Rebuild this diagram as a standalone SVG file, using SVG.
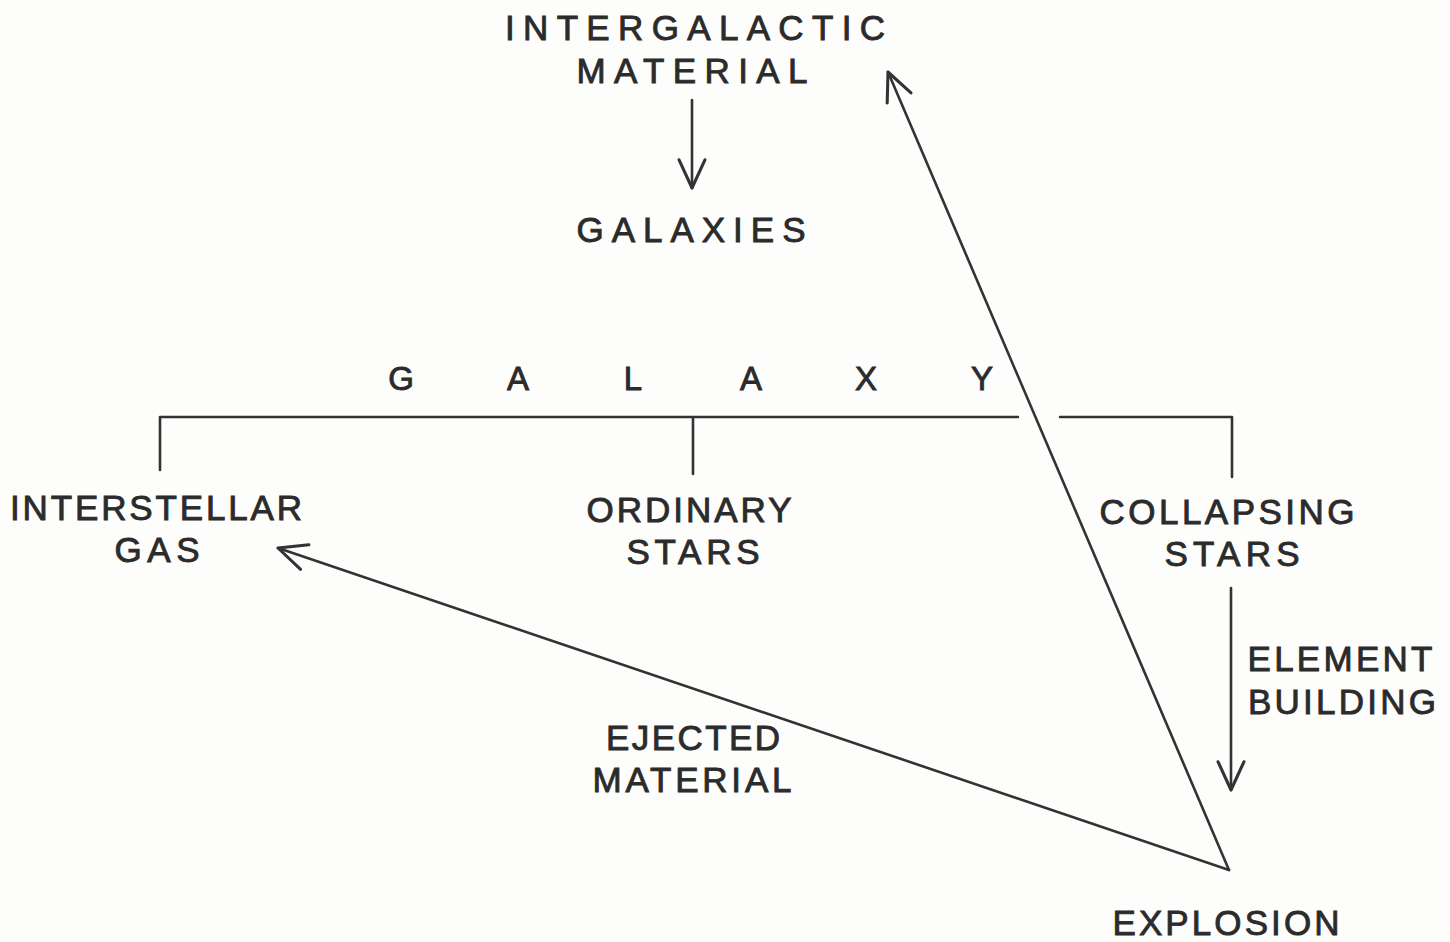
<svg xmlns="http://www.w3.org/2000/svg" width="1450" height="942" viewBox="0 0 1450 942">
<defs>
<style>
.t{font-family:"Liberation Sans","DejaVu Sans",Arial,sans-serif;font-size:35px;fill:#2b2b2b;stroke:#2b2b2b;stroke-width:0.9;text-anchor:middle}
.g{font-size:33px}
.c{fill:none;stroke:#333;stroke-width:2.6;stroke-linecap:round;stroke-linejoin:round}
</style>
<marker id="ah" markerUnits="userSpaceOnUse" markerWidth="40" markerHeight="40" viewBox="-30 -15 34 30" refX="0" refY="0" orient="auto">
<path d="M -24 -11 L 0 0 L -24 11" fill="none" stroke="#333" stroke-width="2.6" stroke-linecap="round" stroke-linejoin="round"/>
</marker>
</defs>
<rect width="1450" height="942" fill="#fdfdfb"/>
<g id="connectors">
<line class="c" x1="692" y1="100" x2="692" y2="188" marker-end="url(#ah)"/>
<path class="c" d="M160 470 V417 H1018 M1060 417 H1232 V477 M693 417 V474"/>
<line class="c" x1="1231" y1="588" x2="1231" y2="790" marker-end="url(#ah)"/>
<line class="c" x1="1229" y1="870" x2="888" y2="72" marker-end="url(#ah)"/>
<line class="c" x1="1229" y1="870" x2="278" y2="548" marker-end="url(#ah)"/>
</g>
<g id="intergalactic">
<text class="t" x="695" y="40" textLength="380" lengthAdjust="spacing">INTERGALACTIC</text>
<text class="t" x="692" y="83" textLength="231" lengthAdjust="spacing">MATERIAL</text>
</g>
<g id="galaxies">
<text class="t" x="691" y="242" textLength="229" lengthAdjust="spacing">GALAXIES</text>
</g>
<g id="galaxy">
<text class="t g" x="401 518 633 751 866 982" y="390">GALAXY</text>
</g>
<g id="interstellar-gas">
<text class="t" x="156" y="520" textLength="292" lengthAdjust="spacing">INTERSTELLAR</text>
<text class="t" x="157" y="562" textLength="85" lengthAdjust="spacing">GAS</text>
</g>
<g id="ordinary-stars">
<text class="t" x="689" y="522" textLength="205" lengthAdjust="spacing">ORDINARY</text>
<text class="t" x="693" y="564" textLength="133" lengthAdjust="spacing">STARS</text>
</g>
<g id="collapsing-stars">
<text class="t" x="1227" y="524" textLength="255" lengthAdjust="spacing">COLLAPSING</text>
<text class="t" x="1232" y="566" textLength="135" lengthAdjust="spacing">STARS</text>
</g>
<g id="element-building">
<text class="t" x="1340" y="671" textLength="185" lengthAdjust="spacing">ELEMENT</text>
<text class="t" x="1342" y="714" textLength="188" lengthAdjust="spacing">BUILDING</text>
</g>
<g id="ejected-material">
<text class="t" x="693" y="750" textLength="174" lengthAdjust="spacing">EJECTED</text>
<text class="t" x="692" y="792" textLength="199" lengthAdjust="spacing">MATERIAL</text>
</g>
<g id="explosion">
<text class="t" x="1226" y="935" textLength="227" lengthAdjust="spacing">EXPLOSION</text>
</g>
</svg>
